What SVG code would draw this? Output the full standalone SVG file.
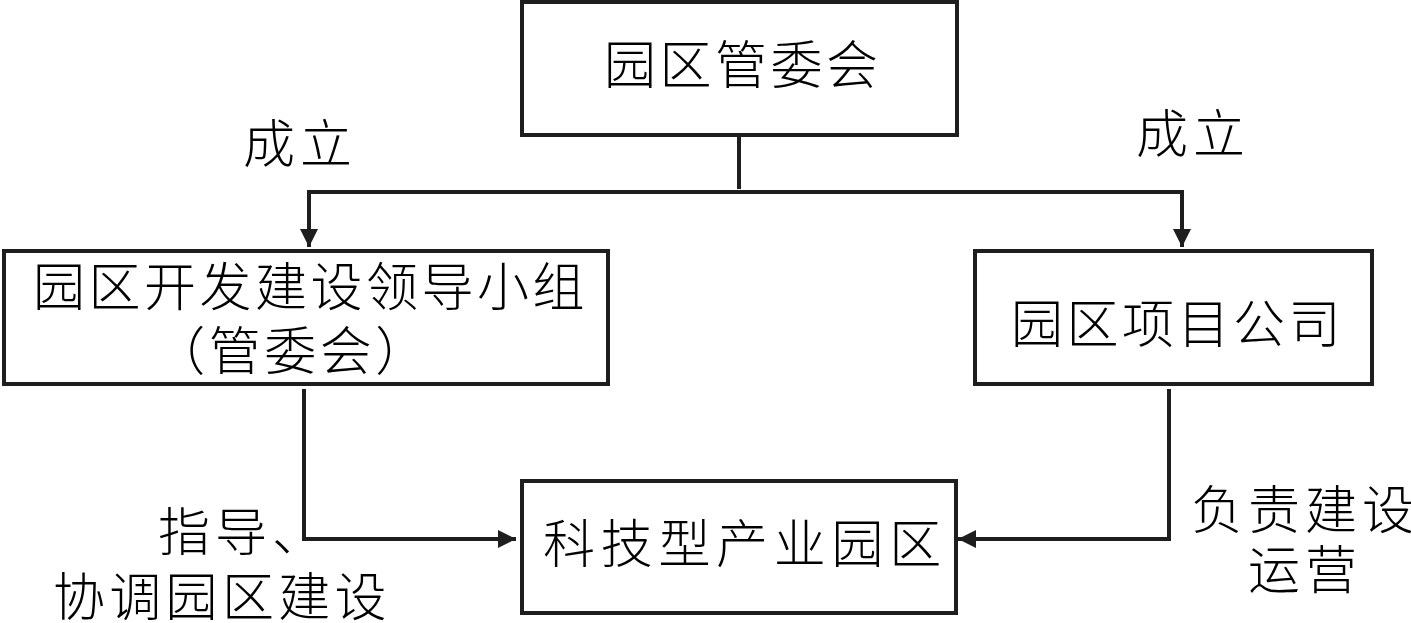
<svg xmlns="http://www.w3.org/2000/svg" width="1411" height="623" viewBox="0 0 1411 623">
  <defs>
    <style>
      .box { fill: #ffffff; stroke: #1e1e1e; stroke-width: 4; }
      .line { fill: none; stroke: #1e1e1e; stroke-width: 4; }
      .t { font-family: "Noto Sans CJK SC", "Noto Sans", sans-serif; font-size: 52px; font-weight: 300; fill: #000000; letter-spacing: 3.5px; }
      .lbl { letter-spacing: 5px; }
    </style>
    <marker id="arrow" viewBox="0 0 18 18" refX="18" refY="9" markerWidth="18" markerHeight="18" markerUnits="userSpaceOnUse" orient="auto">
      <path d="M0,0 L18,9 L0,18 Z" fill="#1e1e1e"/>
    </marker>
  </defs>
  <rect width="1411" height="623" fill="#ffffff"/>

  <g id="connectors">
    <line class="line" x1="739" y1="135" x2="739" y2="189"/>
    <line class="line" x1="307" y1="192" x2="1184" y2="192"/>
    <line class="line" x1="309" y1="190" x2="309" y2="247" marker-end="url(#arrow)"/>
    <line class="line" x1="1182" y1="190" x2="1182" y2="247" marker-end="url(#arrow)"/>
    <polyline class="line" points="304,389 304,539 516,539" marker-end="url(#arrow)"/>
    <polyline class="line" points="1169,389 1169,539 958,539" marker-end="url(#arrow)"/>
  </g>

  <g id="node-guanweihui">
    <rect class="box" x="522" y="2" width="435" height="133"/>
    <text class="t" x="604" y="84">园区管委会</text>
  </g>

  <g id="node-lingdaoxiaozu">
    <rect class="box" x="4" y="251" width="604" height="133"/>
    <text class="t" x="33" y="306">园区开发建设领导小组</text>
    <text class="t" x="292" y="370" text-anchor="middle">（管委会）</text>
  </g>

  <g id="node-xiangmugongsi">
    <rect class="box" x="975" y="251" width="397" height="133"/>
    <text class="t" x="1011" y="343">园区项目公司</text>
  </g>

  <g id="node-yuanqu">
    <rect class="box" x="522" y="481" width="434" height="132"/>
    <text class="t" x="543" y="563" style="letter-spacing:5.7px">科技型产业园区</text>
  </g>

  <g id="labels">
    <text class="t lbl" x="243" y="163">成立</text>
    <text class="t lbl" x="1136" y="153">成立</text>
    <text class="t lbl" x="158" y="551">指导、</text>
    <text class="t lbl" x="53" y="616" style="letter-spacing:4.3px">协调园区建设</text>
    <text class="t lbl" x="1191" y="529">负责建设</text>
    <text class="t lbl" x="1248" y="589">运营</text>
  </g>
</svg>
